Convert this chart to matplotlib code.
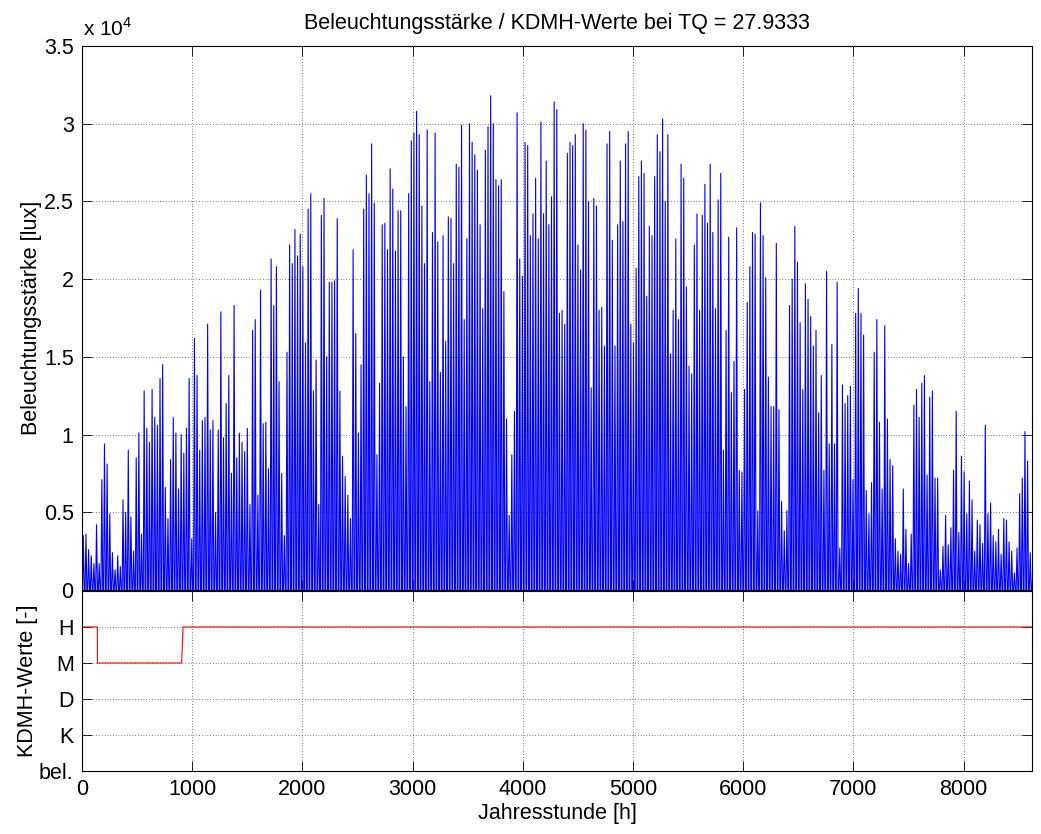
"""
Beleuchtungsstärke / KDMH-Werte chart (MATLAB look)
"""
import matplotlib
matplotlib.use('Agg')
import matplotlib.pyplot as plt
from matplotlib.ticker import FuncFormatter
import numpy as np

plt.rcParams['font.family'] = ['Liberation Sans', 'DejaVu Sans']
plt.rcParams['mathtext.fontset'] = 'custom'
plt.rcParams['mathtext.rm'] = 'Liberation Sans'

# daily peak illuminance, in 10^4 lux (day 0 .. 360)
peaks_d000 = [0.35, 0.36, 0.26, 0.22, 0.17, 0.42, 0.17, 0.71, 0.94, 0.81, 0.49, 0.24, 0.13,
              0.22, 0.15, 0.58, 0.50, 0.90, 0.47, 0.25, 0.85, 1.01, 0.36, 1.28, 1.04, 0.95,
              1.29, 1.11, 1.06, 1.36, 1.45, 0.66, 0.46, 0.84, 1.11, 1.01, 0.65]
peaks_d037 = [1.00, 0.88, 1.04, 1.36, 0.33, 1.62, 1.38, 0.90, 1.09, 1.11, 1.71, 1.03, 1.09,
              0.50, 1.03, 1.79, 0.98, 1.20, 1.38, 0.75, 1.83, 0.85, 1.01, 0.95, 0.89, 1.04,
              0.55, 1.67, 1.74, 0.61, 1.93, 1.07, 1.08, 0.78, 2.13, 1.83]
peaks_d073 = [2.08, 1.34, 0.75, 0.35, 1.53, 2.22, 2.10, 2.32, 2.15, 2.29, 2.08, 1.59, 2.45,
              2.55, 1.28, 1.48, 0.55, 2.41, 2.52, 1.50, 1.98, 1.98, 1.99, 2.39, 1.28, 0.86,
              0.73, 0.61, 0.46, 2.19, 1.65, 1.01, 1.45, 2.45, 2.67, 2.55]
peaks_d109 = [2.87, 2.49, 0.87, 1.33, 2.35, 2.36, 2.19, 2.71, 2.58, 2.18, 2.44, 2.44, 1.50,
              1.18, 2.55, 2.89, 2.94, 3.08, 2.93, 2.47, 2.10, 2.96, 1.34, 2.30, 2.94, 2.24,
              1.40, 2.28, 1.60, 2.40, 2.39, 2.10, 2.74, 2.72, 2.99, 1.74]
peaks_d145 = [2.26, 3.00, 2.88, 2.80, 2.70, 2.35, 1.81, 2.83, 2.98, 3.18, 3.00, 2.64, 2.60,
              2.64, 1.92, 1.10, 0.48, 0.87, 1.15, 3.07, 2.13, 2.02, 2.88, 2.86, 2.28, 2.42,
              2.65, 2.26, 3.01, 2.42, 2.76, 2.35, 2.53, 3.14, 3.09, 1.78]
peaks_d181 = [1.80, 1.71, 2.81, 2.88, 2.86, 2.93, 2.22, 2.06, 3.00, 2.96, 2.50, 1.30, 2.52,
              2.47, 1.80, 1.82, 1.57, 2.87, 2.95, 2.25, 1.57, 2.35, 2.76, 2.37, 2.87, 2.95,
              1.71, 1.59, 2.07, 2.66, 2.76, 2.68, 1.89, 2.34, 2.28, 2.66]
peaks_d217 = [2.93, 2.82, 3.03, 2.50, 2.93, 1.52, 1.80, 2.26, 1.74, 2.74, 2.65, 1.95, 1.44,
              1.39, 2.22, 2.42, 1.80, 2.41, 2.61, 2.36, 2.74, 2.30, 1.81, 2.51, 2.68, 0.90,
              1.67, 2.27, 1.27, 1.47, 2.33, 0.77, 0.76, 1.29, 1.85, 2.08]
peaks_d253 = [2.30, 2.29, 0.51, 2.49, 2.28, 2.01, 1.37, 1.18, 1.18, 2.23, 1.16, 0.57, 0.38,
              0.51, 1.83, 2.00, 2.34, 2.11, 1.72, 1.29, 1.97, 1.87, 1.76, 1.57, 1.67, 1.14,
              1.38, 0.77, 2.05, 0.94, 1.58, 0.94, 1.98, 0.27, 1.32, 1.20]
peaks_d289 = [1.25, 1.31, 0.71, 1.78, 1.94, 1.78, 1.64, 0.64, 0.49, 0.69, 1.53, 1.74, 1.08,
              0.65, 1.70, 1.10, 0.84, 0.80, 0.33, 0.25, 0.23, 0.65, 0.39, 0.17, 0.36, 1.19,
              1.29, 1.11, 1.33, 1.38, 0.74, 1.24, 1.28, 0.72, 0.72, 0.13]
peaks_d325 = [0.28, 0.48, 0.29, 0.40, 0.77, 1.15, 0.37, 0.86, 0.76, 0.49, 0.70, 0.58, 0.25,
              0.45, 0.42, 0.30, 1.06, 0.49, 0.56, 0.35, 0.31, 0.39, 0.23, 0.46, 0.45, 0.31,
              0.25, 0.11, 0.27, 0.62, 0.72, 1.02, 0.83, 0.24, 0.17, 0.30]

# KDMH level over the year (0=bel., 1=K, 2=D, 3=M, 4=H)
kdmh_hours = [0, 139, 140, 904, 917, 8620]
kdmh_values = [4, 4, 3, 3, 4, 4]
kdmh_labels = ['bel.', 'K', 'D', 'M', 'H']

TQ = 27.9333

# hours of the day: dark, midday peak, dark
day_profile_hours = [4, 12, 20]

peaks = np.concatenate([peaks_d000, peaks_d037, peaks_d073, peaks_d109, peaks_d145,
                        peaks_d181, peaks_d217, peaks_d253, peaks_d289, peaks_d325]) * 1e4
days = np.arange(len(peaks))
hours = (days[:, None] * 24 + np.array(day_profile_hours)[None, :]).ravel()
lux = np.column_stack([np.zeros_like(peaks), peaks, np.zeros_like(peaks)]).ravel()

W, H = 1041, 834
fig = plt.figure(figsize=(W / 100, H / 100), dpi=100)
left, right = 82 / W, 1032 / W
ax1 = fig.add_axes([left, 1 - 590 / H, right - left, 544 / H])
ax2 = fig.add_axes([left, 1 - 771 / H, right - left, 180 / H])

grid_kw = dict(color='k', linestyle=(0, (1, 3)), linewidth=0.5)
xmax = 8620
fs = 15.5

ax1.plot(hours, lux, color='#0000ff', linewidth=0.8)
ax1.set_xlim(0, xmax)
ax1.set_ylim(0, 35000)
ax1.set_yticks(np.arange(0, 35001, 5000))
ax1.yaxis.set_major_formatter(FuncFormatter(lambda v, p: f'{v / 1e4:g}'))
ax1.set_xticks(np.arange(0, 8001, 1000))
ax1.set_xticklabels([])
ax1.set_ylabel('Beleuchtungsstärke [lux]', fontsize=fs, labelpad=1)
ax1.set_title(f'Beleuchtungsstärke / KDMH-Werte bei TQ = {TQ:g}', fontsize=15.5, pad=12)
ax1.grid(True, **grid_kw)
fig.text(83 / W, 1 - 29 / H, r'x 10$^{4}$', fontsize=15, ha='left', va='center')

ax2.plot(kdmh_hours, kdmh_values, color='#ff0000', linewidth=0.8)
ax2.set_xlim(0, xmax)
ax2.set_ylim(0, 5)
ax2.set_yticks(range(5))
ax2.set_yticklabels(kdmh_labels)
ax2.set_xticks(np.arange(0, 8001, 1000))
ax2.set_xlabel('Jahresstunde [h]', fontsize=fs, labelpad=2)
ax2.set_ylabel('KDMH-Werte [-]', fontsize=fs, labelpad=1)
ax2.grid(True, **grid_kw)

for ax in (ax1, ax2):
    ax.tick_params(direction='in', top=True, right=True, length=7, width=0.6,
                   labelsize=fs, pad=6)
    for s in ax.spines.values():
        s.set_linewidth(0.8)

fig.savefig('out.png', dpi=100)
